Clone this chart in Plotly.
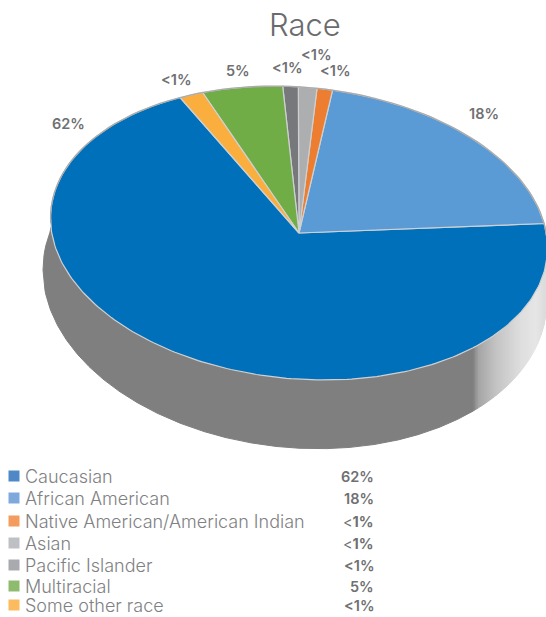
import math
import plotly.graph_objects as go

categories = ["Caucasian", "African American", "Native American/American Indian", "Asian",
              "Pacific Islander", "Multiracial", "Some other race"]
value_labels = ["62%", "18%", "<1%", "<1%", "<1%", "5%", "<1%"]
drawn_shares = [69.7, 20.2, 1.0, 1.2, 1.0, 5.3, 1.6]
slice_colors = ["#0070BA", "#5B9BD5", "#ED7D31", "#ADAEB0", "#77787B", "#70AD47", "#F9AE3D"]
legend_colors = ["#4F88C6", "#7FA9DC", "#F49B5F", "#BFC0C4", "#A9AAAE", "#8FBB6E", "#FBBB5E"]
light_sign_rows = ["Native American/American Indian", "Asian"]

# layout geometry in page pixels
CX, CY, RX, RY = 299, 233, 248.5, 146.2
LCX, LCY, LRX, LRY = 295, 285, 252, 163
TILT = 0.06
START = -28.6
label_xy = [(68, 123), (484, 113), (335, 70), (316, 54), (287, 67), (238, 70), (176, 79)]
legend_y = [476, 498, 521, 543, 565, 586, 605]
FONT = "Inter"
TXT = "#6f7072"

fig = go.Figure()


def ell(t):
    r = math.radians(t)
    return CX + RX * math.sin(r), CY - RY * math.cos(r) + TILT * RX * math.sin(r)


def ybot(x):
    u = (x - LCX) / LRX
    return LCY + TILT * (x - LCX) + LRY * math.sqrt(max(0, 1 - u * u))


def ytop(x):
    u = (x - CX) / RX
    if abs(u) < 1:
        return CY + TILT * (x - CX) + RY * math.sqrt(1 - u * u)
    v = (x - LCX) / LRX
    return LCY + TILT * (x - LCX) - LRY * math.sqrt(max(0, 1 - v * v))


def side_color(x):
    stops = [(0, 127), (472, 127), (478, 165), (495, 195), (520, 222), (535, 230), (548, 215)]
    for (a, va), (b, vb) in zip(stops, stops[1:]):
        if a <= x <= b:
            v = round(va + (vb - va) * (x - a) / (b - a))
            return f"rgb({v},{v},{v})"
    return "rgb(215,215,215)"


def poly(xs, ys, fill, line=None, width=1):
    fig.add_trace(go.Scatter(x=xs, y=ys, mode="lines", fill="toself", fillcolor=fill,
                             line=dict(color=line or fill, width=width),
                             hoverinfo="skip", showlegend=False))


# side wall: a long grey piece and thin gradient strips
left_xs = [LCX - LRX + i * 1.0 for i in range(int(472 - (LCX - LRX)) + 1)]
poly(left_xs + left_xs[::-1], [ybot(x) for x in left_xs] + [ytop(x) for x in left_xs[::-1]], "#7f7f7f")
x = left_xs[-1]
while x < LCX + LRX:
    poly([x, x + 1.5, x + 1.5, x],
         [ytop(x), ytop(x + 1.5), ybot(x + 1.5), ybot(x)], side_color(x))
    x += 1.5

# top face slices, drawn from the shares
t = START
for share, col in zip(drawn_shares, slice_colors):
    sweep = share / 100 * 360
    n = max(4, int(sweep))
    pts = [ell(t - sweep * i / n) for i in range(n + 1)]
    poly([CX] + [p[0] for p in pts] + [CX], [CY] + [p[1] for p in pts] + [CY], col, "#cfd0d2", 1.2)
    t -= sweep

# darker rim along the far edge
rim = [ell(a) for a in range(-92, 93, 2)]
fig.add_trace(go.Scatter(x=[p[0] for p in rim], y=[p[1] for p in rim], mode="lines",
                         line=dict(color="#ababab", width=1.3), hoverinfo="skip", showlegend=False))

# legend squares
fig.add_trace(go.Scatter(x=[14] * len(categories), y=legend_y, mode="markers",
                         marker=dict(symbol="square", size=11, color=legend_colors),
                         hoverinfo="skip", showlegend=False))

ann = [dict(x=305, y=24, text="Race", showarrow=False,
            font=dict(family=FONT, size=31, color="#6a6b6d", weight=300))]
for (lx, ly), lab in zip(label_xy, value_labels):
    ann.append(dict(x=lx, y=ly, text=lab.replace("<", "&lt;"), showarrow=False,
                    font=dict(family=FONT, size=14.5, color=TXT, weight=600)))
for cat, lab, ly in zip(categories, value_labels, legend_y):
    ann.append(dict(x=23, y=ly, text=cat, xanchor="left", showarrow=False,
                    font=dict(family=FONT, size=18, color="#808183", weight=300)))
    if cat in light_sign_rows:
        txt = "&lt;<b>" + lab[1:] + "</b>"
        w = 400
    else:
        txt = lab.replace("<", "&lt;")
        w = 600
    ann.append(dict(x=376, y=ly, text=txt, xanchor="right", showarrow=False,
                    font=dict(family=FONT, size=14.5, color=TXT, weight=w)))

fig.update_layout(
    width=546, height=617, margin=dict(l=0, r=0, t=0, b=0),
    paper_bgcolor="white", plot_bgcolor="white",
    xaxis=dict(range=[0, 546], visible=False, fixedrange=True),
    yaxis=dict(range=[617, 0], visible=False, fixedrange=True),
    annotations=ann, showlegend=False,
)
fig.write_html("out.html", post_script="document.body.style.margin='0';",
               config={"displayModeBar": False})
